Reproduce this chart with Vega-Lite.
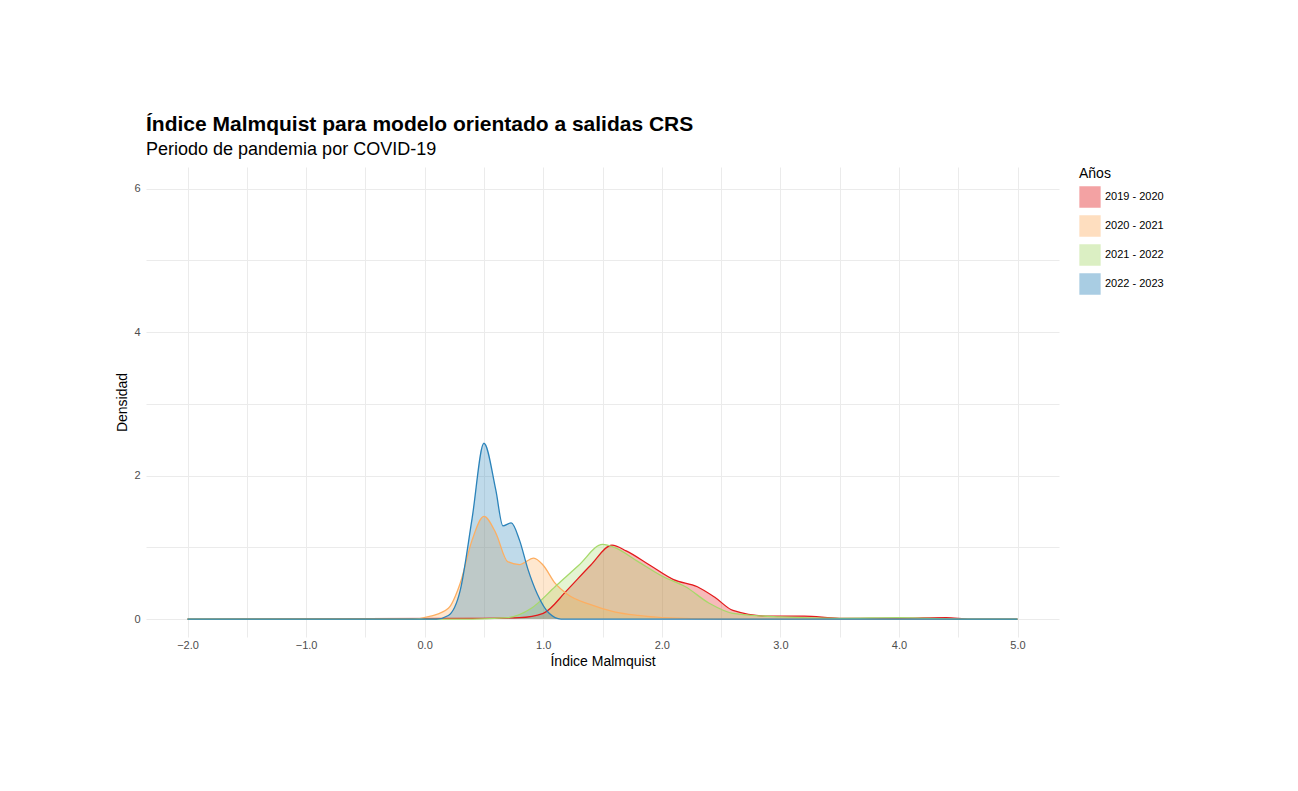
{
  "$schema": "https://vega.github.io/schema/vega-lite/v6.json",
  "width": 913,
  "height": 470,
  "autosize": {"type": "none"},
  "padding": {"left": 146, "top": 167, "right": 239, "bottom": 154},
  "background": "white",
  "config": {"font": "Liberation Sans", "view": {"stroke": null}},
  "title": {
    "text": "Índice Malmquist para modelo orientado a salidas CRS",
    "subtitle": "Periodo de pandemia por COVID-19",
    "anchor": "start", "frame": "group", "fontSize": 21, "fontWeight": "bold", "subtitleFontSize": 18,
    "subtitleColor": "black", "color": "black", "offset": 8, "subtitlePadding": 6
  },
  "data": {"values": [
    {"a": "2019 - 2020", "x": -2, "y": 0}, {"a": "2019 - 2020", "x": 0.4, "y": 0.01}, {"a": "2019 - 2020", "x": 0.8, "y": 0.02},
    {"a": "2019 - 2020", "x": 1.0, "y": 0.08}, {"a": "2019 - 2020", "x": 1.2, "y": 0.4}, {"a": "2019 - 2020", "x": 1.4, "y": 0.75},
    {"a": "2019 - 2020", "x": 1.58, "y": 1.03}, {"a": "2019 - 2020", "x": 1.7, "y": 0.95}, {"a": "2019 - 2020", "x": 1.9, "y": 0.75},
    {"a": "2019 - 2020", "x": 2.1, "y": 0.55}, {"a": "2019 - 2020", "x": 2.3, "y": 0.45}, {"a": "2019 - 2020", "x": 2.45, "y": 0.3},
    {"a": "2019 - 2020", "x": 2.6, "y": 0.12}, {"a": "2019 - 2020", "x": 2.9, "y": 0.04}, {"a": "2019 - 2020", "x": 3.2, "y": 0.04},
    {"a": "2019 - 2020", "x": 3.5, "y": 0.01}, {"a": "2019 - 2020", "x": 4.0, "y": 0.01}, {"a": "2019 - 2020", "x": 4.4, "y": 0.02},
    {"a": "2019 - 2020", "x": 4.6, "y": 0}, {"a": "2019 - 2020", "x": 5, "y": 0},
    {"a": "2020 - 2021", "x": -2, "y": 0}, {"a": "2020 - 2021", "x": -0.1, "y": 0}, {"a": "2020 - 2021", "x": 0.05, "y": 0.04},
    {"a": "2020 - 2021", "x": 0.2, "y": 0.15}, {"a": "2020 - 2021", "x": 0.3, "y": 0.5}, {"a": "2020 - 2021", "x": 0.4, "y": 1.1},
    {"a": "2020 - 2021", "x": 0.5, "y": 1.43}, {"a": "2020 - 2021", "x": 0.6, "y": 1.2}, {"a": "2020 - 2021", "x": 0.7, "y": 0.8},
    {"a": "2020 - 2021", "x": 0.8, "y": 0.76}, {"a": "2020 - 2021", "x": 0.92, "y": 0.85}, {"a": "2020 - 2021", "x": 1.0, "y": 0.75},
    {"a": "2020 - 2021", "x": 1.1, "y": 0.5}, {"a": "2020 - 2021", "x": 1.2, "y": 0.35}, {"a": "2020 - 2021", "x": 1.4, "y": 0.2},
    {"a": "2020 - 2021", "x": 1.6, "y": 0.1}, {"a": "2020 - 2021", "x": 1.8, "y": 0.05}, {"a": "2020 - 2021", "x": 2.0, "y": 0.02},
    {"a": "2020 - 2021", "x": 2.5, "y": 0}, {"a": "2020 - 2021", "x": 5, "y": 0},
    {"a": "2021 - 2022", "x": -2, "y": 0}, {"a": "2021 - 2022", "x": 0.4, "y": 0}, {"a": "2021 - 2022", "x": 0.7, "y": 0.02},
    {"a": "2021 - 2022", "x": 0.9, "y": 0.15}, {"a": "2021 - 2022", "x": 1.1, "y": 0.45}, {"a": "2021 - 2022", "x": 1.3, "y": 0.75},
    {"a": "2021 - 2022", "x": 1.5, "y": 1.04}, {"a": "2021 - 2022", "x": 1.6, "y": 1.0}, {"a": "2021 - 2022", "x": 1.8, "y": 0.8},
    {"a": "2021 - 2022", "x": 2.0, "y": 0.6}, {"a": "2021 - 2022", "x": 2.2, "y": 0.45}, {"a": "2021 - 2022", "x": 2.4, "y": 0.22},
    {"a": "2021 - 2022", "x": 2.6, "y": 0.08}, {"a": "2021 - 2022", "x": 3.0, "y": 0.03}, {"a": "2021 - 2022", "x": 3.5, "y": 0.01},
    {"a": "2021 - 2022", "x": 4.0, "y": 0.02}, {"a": "2021 - 2022", "x": 4.5, "y": 0}, {"a": "2021 - 2022", "x": 5, "y": 0},
    {"a": "2022 - 2023", "x": -2, "y": 0}, {"a": "2022 - 2023", "x": 0.1, "y": 0}, {"a": "2022 - 2023", "x": 0.2, "y": 0.05},
    {"a": "2022 - 2023", "x": 0.3, "y": 0.4}, {"a": "2022 - 2023", "x": 0.4, "y": 1.4}, {"a": "2022 - 2023", "x": 0.5, "y": 2.45},
    {"a": "2022 - 2023", "x": 0.6, "y": 1.8}, {"a": "2022 - 2023", "x": 0.66, "y": 1.3}, {"a": "2022 - 2023", "x": 0.73, "y": 1.34},
    {"a": "2022 - 2023", "x": 0.8, "y": 1.1}, {"a": "2022 - 2023", "x": 0.87, "y": 0.7}, {"a": "2022 - 2023", "x": 0.95, "y": 0.35},
    {"a": "2022 - 2023", "x": 1.05, "y": 0.08}, {"a": "2022 - 2023", "x": 1.15, "y": 0}, {"a": "2022 - 2023", "x": 5, "y": 0}
  ]},
  "mark": {"type": "area", "interpolate": "monotone", "fillOpacity": 0.3, "line": {"strokeWidth": 1.3}},
  "encoding": {
    "x": {"field": "x", "type": "quantitative", "title": "Índice Malmquist",
      "scale": {"domain": [-2.35, 5.35], "nice": false, "zero": false},
      "axis": {"values": [-2, -1.5, -1, -0.5, 0, 0.5, 1, 1.5, 2, 2.5, 3, 3.5, 4, 4.5, 5],
        "labelExpr": "datum.value % 1 == 0 ? datum.label : ''", "domain": false, "ticks": false,
        "gridColor": "#ebebeb", "labelColor": "#4d4d4d", "labelFontSize": 11, "titleFontSize": 14, "titleFontWeight": "normal", "titlePadding": 4}},
    "y": {"field": "y", "type": "quantitative", "title": "Densidad", "stack": null,
      "scale": {"domain": [-0.25, 6.3], "nice": false, "zero": false},
      "axis": {"values": [0, 1, 2, 3, 4, 5, 6],
        "labelExpr": "datum.value % 2 == 0 ? datum.label : ''", "domain": false, "ticks": false,
        "gridColor": "#ebebeb", "labelColor": "#4d4d4d", "labelFontSize": 11, "titleFontSize": 14, "titleFontWeight": "normal", "labelPadding": 6}},
    "color": {"field": "a", "type": "nominal", "title": "Años",
      "scale": {"domain": ["2019 - 2020", "2020 - 2021", "2021 - 2022", "2022 - 2023"], "range": ["#e31a1c", "#fdae61", "#a6d96a", "#2b83ba"]},
      "legend": {"symbolType": "square", "symbolSize": 400, "symbolOpacity": 0.4, "symbolStrokeWidth": 1.3,
        "titleFontSize": 14, "titleFontWeight": "normal", "labelFontSize": 11, "offset": 20, "rowPadding": 3, "orient": "right"}}
  }
}
